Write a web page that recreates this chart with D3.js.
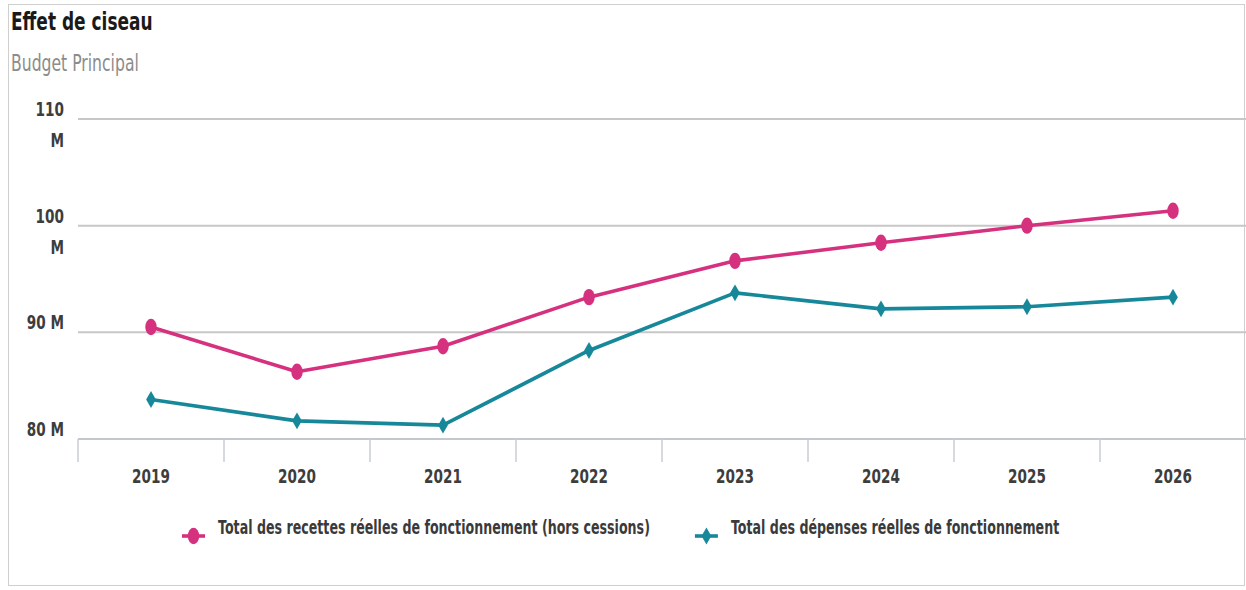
<!DOCTYPE html>
<html>
<head>
<meta charset="utf-8">
<script src="https://cdn.jsdelivr.net/npm/d3@7"></script>
<style>
  html, body { margin: 0; padding: 0; background: #fff; }
  svg { display: block; }
</style>
</head>
<body>
<svg id="chart" width="1246" height="590"></svg>
<script>
// Budget principal : recettes et dépenses réelles de fonctionnement (en millions d'euros)
const years = ["2019", "2020", "2021", "2022", "2023", "2024", "2025", "2026"];
const recettes = [90.5, 86.3, 88.7, 93.3, 96.7, 98.4, 100.0, 101.4];
const depenses = [83.7, 81.7, 81.3, 88.3, 93.7, 92.2, 92.4, 93.3];
const seriesNames = [
  "Total des recettes réelles de fonctionnement (hors cessions)",
  "Total des dépenses réelles de fonctionnement"
];
const yTicks = [80, 90, 100, 110];
const yTickLabels = ["80 M", "90 M", "100 M", "110 M"];
const titleText = "Effet de ciseau";
const subtitleText = "Budget Principal";

const W = 1246, H = 590;
const SX = 0.68;                 // condensed text rendering
const FONT = "'DejaVu Sans', Verdana, sans-serif";
const PINK = "#d5317f";
const TEAL = "#17889a";

const svg = d3.select("#chart");

// outer frame
svg.append("rect")
  .attr("x", 8.5).attr("y", 4.5)
  .attr("width", 1236).attr("height", 581)
  .attr("fill", "#fff").attr("stroke", "#cfcfcf").attr("stroke-width", 1);

function squeezedText(g, str, x, y, opts) {
  return g.append("text")
    .attr("transform", `translate(${x},${y}) scale(${SX},1)`)
    .attr("font-family", FONT)
    .attr("font-size", opts.size)
    .attr("font-weight", opts.weight || "normal")
    .attr("fill", opts.color)
    .attr("text-anchor", opts.anchor || "start")
    .text(str);
}

// title block
squeezedText(svg, titleText, 11, 30, { size: 25, weight: "bold", color: "#1a1a1a" });
squeezedText(svg, subtitleText, 11, 71, { size: 23, color: "#8c8c8c" });

// scales
const x = d3.scaleBand().domain(years).range([78, 1246]).padding(0);
const cx = d => x(d) + x.bandwidth() / 2;
const y = d3.scaleLinear().domain([80, 110]).range([439, 119]);

// horizontal gridlines
svg.append("g").selectAll("line")
  .data(yTicks.filter(v => v !== 80))
  .join("line")
  .attr("x1", 78).attr("x2", W)
  .attr("y1", d => y(d)).attr("y2", d => y(d))
  .attr("stroke", "#c7c7c7").attr("stroke-width", 2);

// x axis line and category boundary ticks
const xAxisG = svg.append("g");
xAxisG.append("line")
  .attr("x1", 78).attr("x2", W)
  .attr("y1", y(80)).attr("y2", y(80))
  .attr("stroke", "#c3c8d0").attr("stroke-width", 2);
xAxisG.selectAll("line.tick")
  .data(years)
  .join("line")
  .attr("class", "tick")
  .attr("x1", d => x(d)).attr("x2", d => x(d))
  .attr("y1", y(80)).attr("y2", y(80) + 23)
  .attr("stroke", "#c8ccd4").attr("stroke-width", 1.5);

// x labels
years.forEach(yr => {
  squeezedText(xAxisG, yr, cx(yr), 483, { size: 20, weight: "bold", color: "#3d3d3d", anchor: "middle" });
});

// y labels (wide labels wrap onto two lines)
const yAxisG = svg.append("g");
yTicks.forEach((v, i) => {
  const label = yTickLabels[i];
  const lines = label.length > 4 ? label.split(" ") : [label];
  lines.forEach((ln, j) => {
    squeezedText(yAxisG, ln, 64, y(v) - 3 + j * 31, { size: 20, weight: "bold", color: "#3d3d3d", anchor: "end" });
  });
});

// series
const series = [
  { name: seriesNames[0], values: recettes, color: PINK, symbol: d3.symbolCircle, size: 210, sx: 0.7 },
  { name: seriesNames[1], values: depenses, color: TEAL, symbol: d3.symbolDiamond, size: 82, sx: 1 }
];

const line = d3.line().x((d, i) => cx(years[i])).y(d => y(d));

series.forEach(s => {
  const g = svg.append("g");
  g.append("path")
    .datum(s.values)
    .attr("d", line)
    .attr("fill", "none")
    .attr("stroke", s.color)
    .attr("stroke-width", 3.6)
    .attr("stroke-linejoin", "round");
  g.selectAll("path.marker")
    .data(s.values)
    .join("path")
    .attr("class", "marker")
    .attr("d", d3.symbol().type(s.symbol).size(s.size))
    .attr("transform", (d, i) => `translate(${cx(years[i])},${y(d)}) scale(${s.sx},1)`)
    .attr("fill", s.color);
});

// legend
const legend = svg.append("g");
let lx = 182;
const ly = 536;
series.forEach(s => {
  const item = legend.append("g");
  item.append("line")
    .attr("x1", lx).attr("x2", lx + 23)
    .attr("y1", ly).attr("y2", ly)
    .attr("stroke", s.color).attr("stroke-width", 3.6);
  item.append("path")
    .attr("d", d3.symbol().type(s.symbol).size(s.size))
    .attr("transform", `translate(${lx + 11.5},${ly}) scale(${s.sx},1)`)
    .attr("fill", s.color);
  const t = squeezedText(item, s.name, lx + 36, ly - 2, { size: 18.6, weight: "bold", color: "#3a3a3a" });
  const w = t.node().getComputedTextLength() * SX;
  lx = lx + 36 + w + 45;
});
</script>
</body>
</html>
